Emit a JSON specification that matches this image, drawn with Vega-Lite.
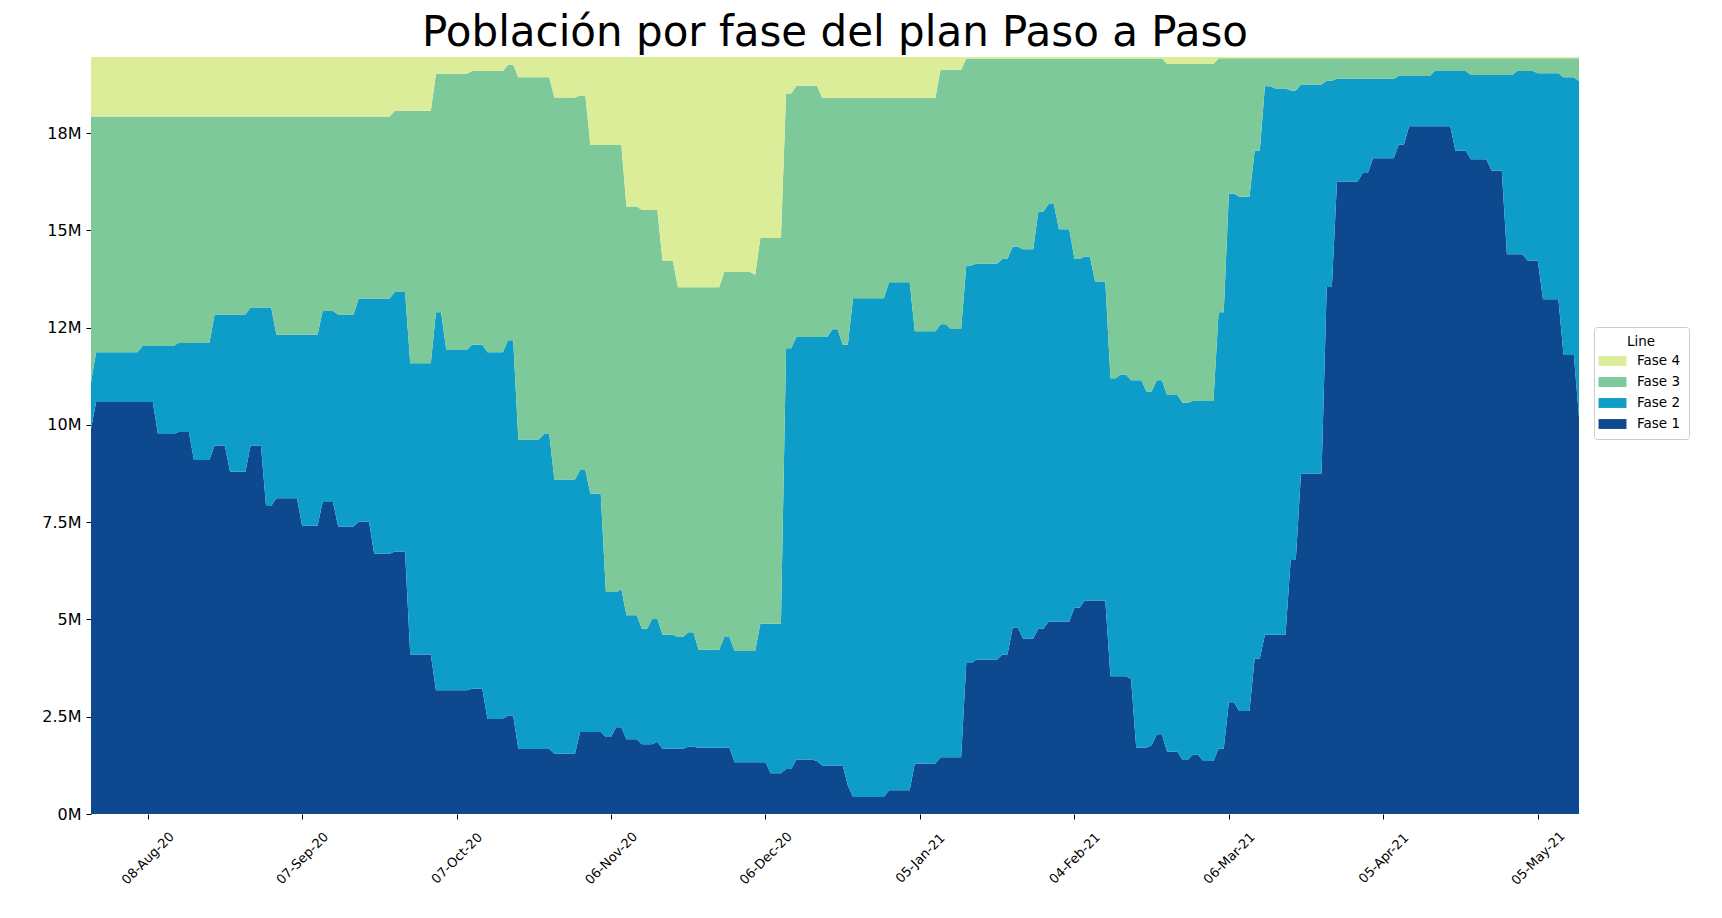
{
"$schema":"https://vega.github.io/schema/vega-lite/v6.json",
"width":1488,"height":757,
"autosize":{"type":"none"},
"padding":{"left":91,"top":57,"right":143,"bottom":104},
"background":"white",
"config":{"font":"DejaVu Sans","view":{"stroke":null}},
"title":{"text":"Población por fase del plan Paso a Paso","fontSize":42,"font":"DejaVu Sans","fontWeight":"normal","color":"black","anchor":"middle","baseline":"alphabetic","offset":-31},
"data":{"values":[
{"fecha":"2020-07-28","fase":"Fase 1","poblacion":9910000},{"fecha":"2020-07-28","fase":"Fase 2","poblacion":1190000},{"fecha":"2020-07-28","fase":"Fase 3","poblacion":6830000},{"fecha":"2020-07-28","fase":"Fase 4","poblacion":1530000},
{"fecha":"2020-07-29","fase":"Fase 1","poblacion":10590000},{"fecha":"2020-07-29","fase":"Fase 2","poblacion":1280000},{"fecha":"2020-07-29","fase":"Fase 3","poblacion":6060000},{"fecha":"2020-07-29","fase":"Fase 4","poblacion":1530000},
{"fecha":"2020-08-06","fase":"Fase 1","poblacion":10590000},{"fecha":"2020-08-06","fase":"Fase 2","poblacion":1280000},{"fecha":"2020-08-06","fase":"Fase 3","poblacion":6060000},{"fecha":"2020-08-06","fase":"Fase 4","poblacion":1530000},
{"fecha":"2020-08-07","fase":"Fase 1","poblacion":10590000},{"fecha":"2020-08-07","fase":"Fase 2","poblacion":1440000},{"fecha":"2020-08-07","fase":"Fase 3","poblacion":5900000},{"fecha":"2020-08-07","fase":"Fase 4","poblacion":1530000},
{"fecha":"2020-08-09","fase":"Fase 1","poblacion":10590000},{"fecha":"2020-08-09","fase":"Fase 2","poblacion":1440000},{"fecha":"2020-08-09","fase":"Fase 3","poblacion":5900000},{"fecha":"2020-08-09","fase":"Fase 4","poblacion":1530000},
{"fecha":"2020-08-10","fase":"Fase 1","poblacion":9770000},{"fecha":"2020-08-10","fase":"Fase 2","poblacion":2260000},{"fecha":"2020-08-10","fase":"Fase 3","poblacion":5900000},{"fecha":"2020-08-10","fase":"Fase 4","poblacion":1530000},
{"fecha":"2020-08-13","fase":"Fase 1","poblacion":9770000},{"fecha":"2020-08-13","fase":"Fase 2","poblacion":2260000},{"fecha":"2020-08-13","fase":"Fase 3","poblacion":5900000},{"fecha":"2020-08-13","fase":"Fase 4","poblacion":1530000},
{"fecha":"2020-08-14","fase":"Fase 1","poblacion":9820000},{"fecha":"2020-08-14","fase":"Fase 2","poblacion":2290000},{"fecha":"2020-08-14","fase":"Fase 3","poblacion":5820000},{"fecha":"2020-08-14","fase":"Fase 4","poblacion":1530000},
{"fecha":"2020-08-16","fase":"Fase 1","poblacion":9820000},{"fecha":"2020-08-16","fase":"Fase 2","poblacion":2290000},{"fecha":"2020-08-16","fase":"Fase 3","poblacion":5820000},{"fecha":"2020-08-16","fase":"Fase 4","poblacion":1530000},
{"fecha":"2020-08-17","fase":"Fase 1","poblacion":9100000},{"fecha":"2020-08-17","fase":"Fase 2","poblacion":3010000},{"fecha":"2020-08-17","fase":"Fase 3","poblacion":5820000},{"fecha":"2020-08-17","fase":"Fase 4","poblacion":1530000},
{"fecha":"2020-08-20","fase":"Fase 1","poblacion":9100000},{"fecha":"2020-08-20","fase":"Fase 2","poblacion":3010000},{"fecha":"2020-08-20","fase":"Fase 3","poblacion":5820000},{"fecha":"2020-08-20","fase":"Fase 4","poblacion":1530000},
{"fecha":"2020-08-21","fase":"Fase 1","poblacion":9470000},{"fecha":"2020-08-21","fase":"Fase 2","poblacion":3370000},{"fecha":"2020-08-21","fase":"Fase 3","poblacion":5090000},{"fecha":"2020-08-21","fase":"Fase 4","poblacion":1530000},
{"fecha":"2020-08-23","fase":"Fase 1","poblacion":9470000},{"fecha":"2020-08-23","fase":"Fase 2","poblacion":3370000},{"fecha":"2020-08-23","fase":"Fase 3","poblacion":5090000},{"fecha":"2020-08-23","fase":"Fase 4","poblacion":1530000},
{"fecha":"2020-08-24","fase":"Fase 1","poblacion":8800000},{"fecha":"2020-08-24","fase":"Fase 2","poblacion":4040000},{"fecha":"2020-08-24","fase":"Fase 3","poblacion":5090000},{"fecha":"2020-08-24","fase":"Fase 4","poblacion":1530000},
{"fecha":"2020-08-27","fase":"Fase 1","poblacion":8800000},{"fecha":"2020-08-27","fase":"Fase 2","poblacion":4040000},{"fecha":"2020-08-27","fase":"Fase 3","poblacion":5090000},{"fecha":"2020-08-27","fase":"Fase 4","poblacion":1530000},
{"fecha":"2020-08-28","fase":"Fase 1","poblacion":9470000},{"fecha":"2020-08-28","fase":"Fase 2","poblacion":3550000},{"fecha":"2020-08-28","fase":"Fase 3","poblacion":4910000},{"fecha":"2020-08-28","fase":"Fase 4","poblacion":1530000},
{"fecha":"2020-08-30","fase":"Fase 1","poblacion":9470000},{"fecha":"2020-08-30","fase":"Fase 2","poblacion":3550000},{"fecha":"2020-08-30","fase":"Fase 3","poblacion":4910000},{"fecha":"2020-08-30","fase":"Fase 4","poblacion":1530000},
{"fecha":"2020-08-31","fase":"Fase 1","poblacion":7920000},{"fecha":"2020-08-31","fase":"Fase 2","poblacion":5100000},{"fecha":"2020-08-31","fase":"Fase 3","poblacion":4910000},{"fecha":"2020-08-31","fase":"Fase 4","poblacion":1530000},
{"fecha":"2020-09-01","fase":"Fase 1","poblacion":7920000},{"fecha":"2020-09-01","fase":"Fase 2","poblacion":5100000},{"fecha":"2020-09-01","fase":"Fase 3","poblacion":4910000},{"fecha":"2020-09-01","fase":"Fase 4","poblacion":1530000},
{"fecha":"2020-09-02","fase":"Fase 1","poblacion":8120000},{"fecha":"2020-09-02","fase":"Fase 2","poblacion":4200000},{"fecha":"2020-09-02","fase":"Fase 3","poblacion":5610000},{"fecha":"2020-09-02","fase":"Fase 4","poblacion":1530000},
{"fecha":"2020-09-06","fase":"Fase 1","poblacion":8120000},{"fecha":"2020-09-06","fase":"Fase 2","poblacion":4200000},{"fecha":"2020-09-06","fase":"Fase 3","poblacion":5610000},{"fecha":"2020-09-06","fase":"Fase 4","poblacion":1530000},
{"fecha":"2020-09-07","fase":"Fase 1","poblacion":7410000},{"fecha":"2020-09-07","fase":"Fase 2","poblacion":4910000},{"fecha":"2020-09-07","fase":"Fase 3","poblacion":5610000},{"fecha":"2020-09-07","fase":"Fase 4","poblacion":1530000},
{"fecha":"2020-09-10","fase":"Fase 1","poblacion":7410000},{"fecha":"2020-09-10","fase":"Fase 2","poblacion":4910000},{"fecha":"2020-09-10","fase":"Fase 3","poblacion":5610000},{"fecha":"2020-09-10","fase":"Fase 4","poblacion":1530000},
{"fecha":"2020-09-11","fase":"Fase 1","poblacion":8020000},{"fecha":"2020-09-11","fase":"Fase 2","poblacion":4910000},{"fecha":"2020-09-11","fase":"Fase 3","poblacion":5000000},{"fecha":"2020-09-11","fase":"Fase 4","poblacion":1530000},
{"fecha":"2020-09-13","fase":"Fase 1","poblacion":8020000},{"fecha":"2020-09-13","fase":"Fase 2","poblacion":4910000},{"fecha":"2020-09-13","fase":"Fase 3","poblacion":5000000},{"fecha":"2020-09-13","fase":"Fase 4","poblacion":1530000},
{"fecha":"2020-09-14","fase":"Fase 1","poblacion":7390000},{"fecha":"2020-09-14","fase":"Fase 2","poblacion":5450000},{"fecha":"2020-09-14","fase":"Fase 3","poblacion":5090000},{"fecha":"2020-09-14","fase":"Fase 4","poblacion":1530000},
{"fecha":"2020-09-17","fase":"Fase 1","poblacion":7390000},{"fecha":"2020-09-17","fase":"Fase 2","poblacion":5450000},{"fecha":"2020-09-17","fase":"Fase 3","poblacion":5090000},{"fecha":"2020-09-17","fase":"Fase 4","poblacion":1530000},
{"fecha":"2020-09-18","fase":"Fase 1","poblacion":7510000},{"fecha":"2020-09-18","fase":"Fase 2","poblacion":5740000},{"fecha":"2020-09-18","fase":"Fase 3","poblacion":4680000},{"fecha":"2020-09-18","fase":"Fase 4","poblacion":1530000},
{"fecha":"2020-09-20","fase":"Fase 1","poblacion":7510000},{"fecha":"2020-09-20","fase":"Fase 2","poblacion":5740000},{"fecha":"2020-09-20","fase":"Fase 3","poblacion":4680000},{"fecha":"2020-09-20","fase":"Fase 4","poblacion":1530000},
{"fecha":"2020-09-21","fase":"Fase 1","poblacion":6690000},{"fecha":"2020-09-21","fase":"Fase 2","poblacion":6560000},{"fecha":"2020-09-21","fase":"Fase 3","poblacion":4680000},{"fecha":"2020-09-21","fase":"Fase 4","poblacion":1530000},
{"fecha":"2020-09-24","fase":"Fase 1","poblacion":6690000},{"fecha":"2020-09-24","fase":"Fase 2","poblacion":6560000},{"fecha":"2020-09-24","fase":"Fase 3","poblacion":4680000},{"fecha":"2020-09-24","fase":"Fase 4","poblacion":1530000},
{"fecha":"2020-09-25","fase":"Fase 1","poblacion":6750000},{"fecha":"2020-09-25","fase":"Fase 2","poblacion":6670000},{"fecha":"2020-09-25","fase":"Fase 3","poblacion":4660000},{"fecha":"2020-09-25","fase":"Fase 4","poblacion":1380000},
{"fecha":"2020-09-27","fase":"Fase 1","poblacion":6750000},{"fecha":"2020-09-27","fase":"Fase 2","poblacion":6670000},{"fecha":"2020-09-27","fase":"Fase 3","poblacion":4660000},{"fecha":"2020-09-27","fase":"Fase 4","poblacion":1380000},
{"fecha":"2020-09-28","fase":"Fase 1","poblacion":4100000},{"fecha":"2020-09-28","fase":"Fase 2","poblacion":7490000},{"fecha":"2020-09-28","fase":"Fase 3","poblacion":6490000},{"fecha":"2020-09-28","fase":"Fase 4","poblacion":1380000},
{"fecha":"2020-10-02","fase":"Fase 1","poblacion":4100000},{"fecha":"2020-10-02","fase":"Fase 2","poblacion":7490000},{"fecha":"2020-10-02","fase":"Fase 3","poblacion":6490000},{"fecha":"2020-10-02","fase":"Fase 4","poblacion":1380000},
{"fecha":"2020-10-03","fase":"Fase 1","poblacion":3180000},{"fecha":"2020-10-03","fase":"Fase 2","poblacion":9720000},{"fecha":"2020-10-03","fase":"Fase 3","poblacion":6130000},{"fecha":"2020-10-03","fase":"Fase 4","poblacion":430000},
{"fecha":"2020-10-04","fase":"Fase 1","poblacion":3180000},{"fecha":"2020-10-04","fase":"Fase 2","poblacion":9720000},{"fecha":"2020-10-04","fase":"Fase 3","poblacion":6130000},{"fecha":"2020-10-04","fase":"Fase 4","poblacion":430000},
{"fecha":"2020-10-05","fase":"Fase 1","poblacion":3180000},{"fecha":"2020-10-05","fase":"Fase 2","poblacion":8750000},{"fecha":"2020-10-05","fase":"Fase 3","poblacion":7100000},{"fecha":"2020-10-05","fase":"Fase 4","poblacion":430000},
{"fecha":"2020-10-09","fase":"Fase 1","poblacion":3180000},{"fecha":"2020-10-09","fase":"Fase 2","poblacion":8750000},{"fecha":"2020-10-09","fase":"Fase 3","poblacion":7100000},{"fecha":"2020-10-09","fase":"Fase 4","poblacion":430000},
{"fecha":"2020-10-10","fase":"Fase 1","poblacion":3220000},{"fecha":"2020-10-10","fase":"Fase 2","poblacion":8840000},{"fecha":"2020-10-10","fase":"Fase 3","poblacion":7040000},{"fecha":"2020-10-10","fase":"Fase 4","poblacion":360000},
{"fecha":"2020-10-12","fase":"Fase 1","poblacion":3220000},{"fecha":"2020-10-12","fase":"Fase 2","poblacion":8840000},{"fecha":"2020-10-12","fase":"Fase 3","poblacion":7040000},{"fecha":"2020-10-12","fase":"Fase 4","poblacion":360000},
{"fecha":"2020-10-13","fase":"Fase 1","poblacion":2440000},{"fecha":"2020-10-13","fase":"Fase 2","poblacion":9430000},{"fecha":"2020-10-13","fase":"Fase 3","poblacion":7230000},{"fecha":"2020-10-13","fase":"Fase 4","poblacion":360000},
{"fecha":"2020-10-16","fase":"Fase 1","poblacion":2440000},{"fecha":"2020-10-16","fase":"Fase 2","poblacion":9430000},{"fecha":"2020-10-16","fase":"Fase 3","poblacion":7230000},{"fecha":"2020-10-16","fase":"Fase 4","poblacion":360000},
{"fecha":"2020-10-17","fase":"Fase 1","poblacion":2530000},{"fecha":"2020-10-17","fase":"Fase 2","poblacion":9650000},{"fecha":"2020-10-17","fase":"Fase 3","poblacion":7080000},{"fecha":"2020-10-17","fase":"Fase 4","poblacion":200000},
{"fecha":"2020-10-18","fase":"Fase 1","poblacion":2530000},{"fecha":"2020-10-18","fase":"Fase 2","poblacion":9650000},{"fecha":"2020-10-18","fase":"Fase 3","poblacion":7080000},{"fecha":"2020-10-18","fase":"Fase 4","poblacion":200000},
{"fecha":"2020-10-19","fase":"Fase 1","poblacion":1670000},{"fecha":"2020-10-19","fase":"Fase 2","poblacion":7960000},{"fecha":"2020-10-19","fase":"Fase 3","poblacion":9310000},{"fecha":"2020-10-19","fase":"Fase 4","poblacion":520000},
{"fecha":"2020-10-23","fase":"Fase 1","poblacion":1670000},{"fecha":"2020-10-23","fase":"Fase 2","poblacion":7960000},{"fecha":"2020-10-23","fase":"Fase 3","poblacion":9310000},{"fecha":"2020-10-23","fase":"Fase 4","poblacion":520000},
{"fecha":"2020-10-24","fase":"Fase 1","poblacion":1670000},{"fecha":"2020-10-24","fase":"Fase 2","poblacion":8100000},{"fecha":"2020-10-24","fase":"Fase 3","poblacion":9170000},{"fecha":"2020-10-24","fase":"Fase 4","poblacion":520000},
{"fecha":"2020-10-25","fase":"Fase 1","poblacion":1670000},{"fecha":"2020-10-25","fase":"Fase 2","poblacion":8100000},{"fecha":"2020-10-25","fase":"Fase 3","poblacion":9170000},{"fecha":"2020-10-25","fase":"Fase 4","poblacion":520000},
{"fecha":"2020-10-26","fase":"Fase 1","poblacion":1550000},{"fecha":"2020-10-26","fase":"Fase 2","poblacion":7050000},{"fecha":"2020-10-26","fase":"Fase 3","poblacion":9820000},{"fecha":"2020-10-26","fase":"Fase 4","poblacion":1040000},
{"fecha":"2020-10-30","fase":"Fase 1","poblacion":1550000},{"fecha":"2020-10-30","fase":"Fase 2","poblacion":7050000},{"fecha":"2020-10-30","fase":"Fase 3","poblacion":9820000},{"fecha":"2020-10-30","fase":"Fase 4","poblacion":1040000},
{"fecha":"2020-10-31","fase":"Fase 1","poblacion":2110000},{"fecha":"2020-10-31","fase":"Fase 2","poblacion":6730000},{"fecha":"2020-10-31","fase":"Fase 3","poblacion":9630000},{"fecha":"2020-10-31","fase":"Fase 4","poblacion":990000},
{"fecha":"2020-11-01","fase":"Fase 1","poblacion":2110000},{"fecha":"2020-11-01","fase":"Fase 2","poblacion":6730000},{"fecha":"2020-11-01","fase":"Fase 3","poblacion":9630000},{"fecha":"2020-11-01","fase":"Fase 4","poblacion":990000},
{"fecha":"2020-11-02","fase":"Fase 1","poblacion":2110000},{"fecha":"2020-11-02","fase":"Fase 2","poblacion":6120000},{"fecha":"2020-11-02","fase":"Fase 3","poblacion":8970000},{"fecha":"2020-11-02","fase":"Fase 4","poblacion":2260000},
{"fecha":"2020-11-04","fase":"Fase 1","poblacion":2110000},{"fecha":"2020-11-04","fase":"Fase 2","poblacion":6120000},{"fecha":"2020-11-04","fase":"Fase 3","poblacion":8970000},{"fecha":"2020-11-04","fase":"Fase 4","poblacion":2260000},
{"fecha":"2020-11-05","fase":"Fase 1","poblacion":1980000},{"fecha":"2020-11-05","fase":"Fase 2","poblacion":3730000},{"fecha":"2020-11-05","fase":"Fase 3","poblacion":11490000},{"fecha":"2020-11-05","fase":"Fase 4","poblacion":2260000},
{"fecha":"2020-11-06","fase":"Fase 1","poblacion":1980000},{"fecha":"2020-11-06","fase":"Fase 2","poblacion":3730000},{"fecha":"2020-11-06","fase":"Fase 3","poblacion":11490000},{"fecha":"2020-11-06","fase":"Fase 4","poblacion":2260000},
{"fecha":"2020-11-07","fase":"Fase 1","poblacion":2230000},{"fecha":"2020-11-07","fase":"Fase 2","poblacion":3480000},{"fecha":"2020-11-07","fase":"Fase 3","poblacion":11490000},{"fecha":"2020-11-07","fase":"Fase 4","poblacion":2260000},
{"fecha":"2020-11-08","fase":"Fase 1","poblacion":2230000},{"fecha":"2020-11-08","fase":"Fase 2","poblacion":3550000},{"fecha":"2020-11-08","fase":"Fase 3","poblacion":11420000},{"fecha":"2020-11-08","fase":"Fase 4","poblacion":2260000},
{"fecha":"2020-11-09","fase":"Fase 1","poblacion":1920000},{"fecha":"2020-11-09","fase":"Fase 2","poblacion":3190000},{"fecha":"2020-11-09","fase":"Fase 3","poblacion":10510000},{"fecha":"2020-11-09","fase":"Fase 4","poblacion":3840000},
{"fecha":"2020-11-11","fase":"Fase 1","poblacion":1920000},{"fecha":"2020-11-11","fase":"Fase 2","poblacion":3190000},{"fecha":"2020-11-11","fase":"Fase 3","poblacion":10510000},{"fecha":"2020-11-11","fase":"Fase 4","poblacion":3840000},
{"fecha":"2020-11-12","fase":"Fase 1","poblacion":1790000},{"fecha":"2020-11-12","fase":"Fase 2","poblacion":2970000},{"fecha":"2020-11-12","fase":"Fase 3","poblacion":10770000},{"fecha":"2020-11-12","fase":"Fase 4","poblacion":3930000},
{"fecha":"2020-11-13","fase":"Fase 1","poblacion":1790000},{"fecha":"2020-11-13","fase":"Fase 2","poblacion":2970000},{"fecha":"2020-11-13","fase":"Fase 3","poblacion":10770000},{"fecha":"2020-11-13","fase":"Fase 4","poblacion":3930000},
{"fecha":"2020-11-14","fase":"Fase 1","poblacion":1790000},{"fecha":"2020-11-14","fase":"Fase 2","poblacion":3220000},{"fecha":"2020-11-14","fase":"Fase 3","poblacion":10520000},{"fecha":"2020-11-14","fase":"Fase 4","poblacion":3930000},
{"fecha":"2020-11-15","fase":"Fase 1","poblacion":1860000},{"fecha":"2020-11-15","fase":"Fase 2","poblacion":3150000},{"fecha":"2020-11-15","fase":"Fase 3","poblacion":10520000},{"fecha":"2020-11-15","fase":"Fase 4","poblacion":3930000},
{"fecha":"2020-11-16","fase":"Fase 1","poblacion":1680000},{"fecha":"2020-11-16","fase":"Fase 2","poblacion":2930000},{"fecha":"2020-11-16","fase":"Fase 3","poblacion":9620000},{"fecha":"2020-11-16","fase":"Fase 4","poblacion":5230000},
{"fecha":"2020-11-18","fase":"Fase 1","poblacion":1680000},{"fecha":"2020-11-18","fase":"Fase 2","poblacion":2930000},{"fecha":"2020-11-18","fase":"Fase 3","poblacion":9620000},{"fecha":"2020-11-18","fase":"Fase 4","poblacion":5230000},
{"fecha":"2020-11-19","fase":"Fase 1","poblacion":1680000},{"fecha":"2020-11-19","fase":"Fase 2","poblacion":2870000},{"fecha":"2020-11-19","fase":"Fase 3","poblacion":8990000},{"fecha":"2020-11-19","fase":"Fase 4","poblacion":5920000},
{"fecha":"2020-11-20","fase":"Fase 1","poblacion":1680000},{"fecha":"2020-11-20","fase":"Fase 2","poblacion":2870000},{"fecha":"2020-11-20","fase":"Fase 3","poblacion":8990000},{"fecha":"2020-11-20","fase":"Fase 4","poblacion":5920000},
{"fecha":"2020-11-21","fase":"Fase 1","poblacion":1730000},{"fecha":"2020-11-21","fase":"Fase 2","poblacion":2940000},{"fecha":"2020-11-21","fase":"Fase 3","poblacion":8870000},{"fecha":"2020-11-21","fase":"Fase 4","poblacion":5920000},
{"fecha":"2020-11-22","fase":"Fase 1","poblacion":1730000},{"fecha":"2020-11-22","fase":"Fase 2","poblacion":2940000},{"fecha":"2020-11-22","fase":"Fase 3","poblacion":8870000},{"fecha":"2020-11-22","fase":"Fase 4","poblacion":5920000},
{"fecha":"2020-11-23","fase":"Fase 1","poblacion":1700000},{"fecha":"2020-11-23","fase":"Fase 2","poblacion":2520000},{"fecha":"2020-11-23","fase":"Fase 3","poblacion":9320000},{"fecha":"2020-11-23","fase":"Fase 4","poblacion":5920000},
{"fecha":"2020-11-27","fase":"Fase 1","poblacion":1700000},{"fecha":"2020-11-27","fase":"Fase 2","poblacion":2520000},{"fecha":"2020-11-27","fase":"Fase 3","poblacion":9320000},{"fecha":"2020-11-27","fase":"Fase 4","poblacion":5920000},
{"fecha":"2020-11-28","fase":"Fase 1","poblacion":1700000},{"fecha":"2020-11-28","fase":"Fase 2","poblacion":2850000},{"fecha":"2020-11-28","fase":"Fase 3","poblacion":9380000},{"fecha":"2020-11-28","fase":"Fase 4","poblacion":5530000},
{"fecha":"2020-11-29","fase":"Fase 1","poblacion":1700000},{"fecha":"2020-11-29","fase":"Fase 2","poblacion":2850000},{"fecha":"2020-11-29","fase":"Fase 3","poblacion":9380000},{"fecha":"2020-11-29","fase":"Fase 4","poblacion":5530000},
{"fecha":"2020-11-30","fase":"Fase 1","poblacion":1330000},{"fecha":"2020-11-30","fase":"Fase 2","poblacion":2860000},{"fecha":"2020-11-30","fase":"Fase 3","poblacion":9740000},{"fecha":"2020-11-30","fase":"Fase 4","poblacion":5530000},
{"fecha":"2020-12-03","fase":"Fase 1","poblacion":1330000},{"fecha":"2020-12-03","fase":"Fase 2","poblacion":2860000},{"fecha":"2020-12-03","fase":"Fase 3","poblacion":9740000},{"fecha":"2020-12-03","fase":"Fase 4","poblacion":5530000},
{"fecha":"2020-12-04","fase":"Fase 1","poblacion":1330000},{"fecha":"2020-12-04","fase":"Fase 2","poblacion":2860000},{"fecha":"2020-12-04","fase":"Fase 3","poblacion":9670000},{"fecha":"2020-12-04","fase":"Fase 4","poblacion":5600000},
{"fecha":"2020-12-05","fase":"Fase 1","poblacion":1330000},{"fecha":"2020-12-05","fase":"Fase 2","poblacion":3560000},{"fecha":"2020-12-05","fase":"Fase 3","poblacion":9920000},{"fecha":"2020-12-05","fase":"Fase 4","poblacion":4650000},
{"fecha":"2020-12-06","fase":"Fase 1","poblacion":1330000},{"fecha":"2020-12-06","fase":"Fase 2","poblacion":3560000},{"fecha":"2020-12-06","fase":"Fase 3","poblacion":9920000},{"fecha":"2020-12-06","fase":"Fase 4","poblacion":4650000},
{"fecha":"2020-12-07","fase":"Fase 1","poblacion":1050000},{"fecha":"2020-12-07","fase":"Fase 2","poblacion":3840000},{"fecha":"2020-12-07","fase":"Fase 3","poblacion":9920000},{"fecha":"2020-12-07","fase":"Fase 4","poblacion":4650000},
{"fecha":"2020-12-09","fase":"Fase 1","poblacion":1050000},{"fecha":"2020-12-09","fase":"Fase 2","poblacion":3840000},{"fecha":"2020-12-09","fase":"Fase 3","poblacion":9920000},{"fecha":"2020-12-09","fase":"Fase 4","poblacion":4650000},
{"fecha":"2020-12-10","fase":"Fase 1","poblacion":1160000},{"fecha":"2020-12-10","fase":"Fase 2","poblacion":10810000},{"fecha":"2020-12-10","fase":"Fase 3","poblacion":6550000},{"fecha":"2020-12-10","fase":"Fase 4","poblacion":940000},
{"fecha":"2020-12-11","fase":"Fase 1","poblacion":1160000},{"fecha":"2020-12-11","fase":"Fase 2","poblacion":10810000},{"fecha":"2020-12-11","fase":"Fase 3","poblacion":6550000},{"fecha":"2020-12-11","fase":"Fase 4","poblacion":940000},
{"fecha":"2020-12-12","fase":"Fase 1","poblacion":1400000},{"fecha":"2020-12-12","fase":"Fase 2","poblacion":10860000},{"fecha":"2020-12-12","fase":"Fase 3","poblacion":6460000},{"fecha":"2020-12-12","fase":"Fase 4","poblacion":740000},
{"fecha":"2020-12-15","fase":"Fase 1","poblacion":1400000},{"fecha":"2020-12-15","fase":"Fase 2","poblacion":10860000},{"fecha":"2020-12-15","fase":"Fase 3","poblacion":6460000},{"fecha":"2020-12-15","fase":"Fase 4","poblacion":740000},
{"fecha":"2020-12-16","fase":"Fase 1","poblacion":1360000},{"fecha":"2020-12-16","fase":"Fase 2","poblacion":10900000},{"fecha":"2020-12-16","fase":"Fase 3","poblacion":6460000},{"fecha":"2020-12-16","fase":"Fase 4","poblacion":740000},
{"fecha":"2020-12-17","fase":"Fase 1","poblacion":1250000},{"fecha":"2020-12-17","fase":"Fase 2","poblacion":11010000},{"fecha":"2020-12-17","fase":"Fase 3","poblacion":6150000},{"fecha":"2020-12-17","fase":"Fase 4","poblacion":1050000},
{"fecha":"2020-12-18","fase":"Fase 1","poblacion":1250000},{"fecha":"2020-12-18","fase":"Fase 2","poblacion":11010000},{"fecha":"2020-12-18","fase":"Fase 3","poblacion":6150000},{"fecha":"2020-12-18","fase":"Fase 4","poblacion":1050000},
{"fecha":"2020-12-19","fase":"Fase 1","poblacion":1250000},{"fecha":"2020-12-19","fase":"Fase 2","poblacion":11210000},{"fecha":"2020-12-19","fase":"Fase 3","poblacion":5950000},{"fecha":"2020-12-19","fase":"Fase 4","poblacion":1050000},
{"fecha":"2020-12-20","fase":"Fase 1","poblacion":1250000},{"fecha":"2020-12-20","fase":"Fase 2","poblacion":11210000},{"fecha":"2020-12-20","fase":"Fase 3","poblacion":5950000},{"fecha":"2020-12-20","fase":"Fase 4","poblacion":1050000},
{"fecha":"2020-12-21","fase":"Fase 1","poblacion":1250000},{"fecha":"2020-12-21","fase":"Fase 2","poblacion":10810000},{"fecha":"2020-12-21","fase":"Fase 3","poblacion":6350000},{"fecha":"2020-12-21","fase":"Fase 4","poblacion":1050000},
{"fecha":"2020-12-22","fase":"Fase 1","poblacion":730000},{"fecha":"2020-12-22","fase":"Fase 2","poblacion":11330000},{"fecha":"2020-12-22","fase":"Fase 3","poblacion":6350000},{"fecha":"2020-12-22","fase":"Fase 4","poblacion":1050000},
{"fecha":"2020-12-23","fase":"Fase 1","poblacion":440000},{"fecha":"2020-12-23","fase":"Fase 2","poblacion":12820000},{"fecha":"2020-12-23","fase":"Fase 3","poblacion":5150000},{"fecha":"2020-12-23","fase":"Fase 4","poblacion":1050000},
{"fecha":"2020-12-29","fase":"Fase 1","poblacion":440000},{"fecha":"2020-12-29","fase":"Fase 2","poblacion":12820000},{"fecha":"2020-12-29","fase":"Fase 3","poblacion":5150000},{"fecha":"2020-12-29","fase":"Fase 4","poblacion":1050000},
{"fecha":"2020-12-30","fase":"Fase 1","poblacion":610000},{"fecha":"2020-12-30","fase":"Fase 2","poblacion":13060000},{"fecha":"2020-12-30","fase":"Fase 3","poblacion":4740000},{"fecha":"2020-12-30","fase":"Fase 4","poblacion":1050000},
{"fecha":"2021-01-03","fase":"Fase 1","poblacion":610000},{"fecha":"2021-01-03","fase":"Fase 2","poblacion":13060000},{"fecha":"2021-01-03","fase":"Fase 3","poblacion":4740000},{"fecha":"2021-01-03","fase":"Fase 4","poblacion":1050000},
{"fecha":"2021-01-04","fase":"Fase 1","poblacion":1300000},{"fecha":"2021-01-04","fase":"Fase 2","poblacion":11110000},{"fecha":"2021-01-04","fase":"Fase 3","poblacion":6000000},{"fecha":"2021-01-04","fase":"Fase 4","poblacion":1050000},
{"fecha":"2021-01-08","fase":"Fase 1","poblacion":1300000},{"fecha":"2021-01-08","fase":"Fase 2","poblacion":11110000},{"fecha":"2021-01-08","fase":"Fase 3","poblacion":6000000},{"fecha":"2021-01-08","fase":"Fase 4","poblacion":1050000},
{"fecha":"2021-01-09","fase":"Fase 1","poblacion":1460000},{"fecha":"2021-01-09","fase":"Fase 2","poblacion":11130000},{"fecha":"2021-01-09","fase":"Fase 3","poblacion":6540000},{"fecha":"2021-01-09","fase":"Fase 4","poblacion":330000},
{"fecha":"2021-01-10","fase":"Fase 1","poblacion":1460000},{"fecha":"2021-01-10","fase":"Fase 2","poblacion":11130000},{"fecha":"2021-01-10","fase":"Fase 3","poblacion":6540000},{"fecha":"2021-01-10","fase":"Fase 4","poblacion":330000},
{"fecha":"2021-01-11","fase":"Fase 1","poblacion":1460000},{"fecha":"2021-01-11","fase":"Fase 2","poblacion":11010000},{"fecha":"2021-01-11","fase":"Fase 3","poblacion":6660000},{"fecha":"2021-01-11","fase":"Fase 4","poblacion":330000},
{"fecha":"2021-01-13","fase":"Fase 1","poblacion":1460000},{"fecha":"2021-01-13","fase":"Fase 2","poblacion":11010000},{"fecha":"2021-01-13","fase":"Fase 3","poblacion":6660000},{"fecha":"2021-01-13","fase":"Fase 4","poblacion":330000},
{"fecha":"2021-01-14","fase":"Fase 1","poblacion":3880000},{"fecha":"2021-01-14","fase":"Fase 2","poblacion":10220000},{"fecha":"2021-01-14","fase":"Fase 3","poblacion":5320000},{"fecha":"2021-01-14","fase":"Fase 4","poblacion":40000},
{"fecha":"2021-01-15","fase":"Fase 1","poblacion":3880000},{"fecha":"2021-01-15","fase":"Fase 2","poblacion":10220000},{"fecha":"2021-01-15","fase":"Fase 3","poblacion":5320000},{"fecha":"2021-01-15","fase":"Fase 4","poblacion":40000},
{"fecha":"2021-01-16","fase":"Fase 1","poblacion":3970000},{"fecha":"2021-01-16","fase":"Fase 2","poblacion":10180000},{"fecha":"2021-01-16","fase":"Fase 3","poblacion":5270000},{"fecha":"2021-01-16","fase":"Fase 4","poblacion":40000},
{"fecha":"2021-01-20","fase":"Fase 1","poblacion":3970000},{"fecha":"2021-01-20","fase":"Fase 2","poblacion":10180000},{"fecha":"2021-01-20","fase":"Fase 3","poblacion":5270000},{"fecha":"2021-01-20","fase":"Fase 4","poblacion":40000},
{"fecha":"2021-01-21","fase":"Fase 1","poblacion":4100000},{"fecha":"2021-01-21","fase":"Fase 2","poblacion":10170000},{"fecha":"2021-01-21","fase":"Fase 3","poblacion":5150000},{"fecha":"2021-01-21","fase":"Fase 4","poblacion":40000},
{"fecha":"2021-01-22","fase":"Fase 1","poblacion":4100000},{"fecha":"2021-01-22","fase":"Fase 2","poblacion":10170000},{"fecha":"2021-01-22","fase":"Fase 3","poblacion":5150000},{"fecha":"2021-01-22","fase":"Fase 4","poblacion":40000},
{"fecha":"2021-01-23","fase":"Fase 1","poblacion":4790000},{"fecha":"2021-01-23","fase":"Fase 2","poblacion":9790000},{"fecha":"2021-01-23","fase":"Fase 3","poblacion":4840000},{"fecha":"2021-01-23","fase":"Fase 4","poblacion":40000},
{"fecha":"2021-01-24","fase":"Fase 1","poblacion":4790000},{"fecha":"2021-01-24","fase":"Fase 2","poblacion":9790000},{"fecha":"2021-01-24","fase":"Fase 3","poblacion":4840000},{"fecha":"2021-01-24","fase":"Fase 4","poblacion":40000},
{"fecha":"2021-01-25","fase":"Fase 1","poblacion":4510000},{"fecha":"2021-01-25","fase":"Fase 2","poblacion":10010000},{"fecha":"2021-01-25","fase":"Fase 3","poblacion":4900000},{"fecha":"2021-01-25","fase":"Fase 4","poblacion":40000},
{"fecha":"2021-01-27","fase":"Fase 1","poblacion":4510000},{"fecha":"2021-01-27","fase":"Fase 2","poblacion":10010000},{"fecha":"2021-01-27","fase":"Fase 3","poblacion":4900000},{"fecha":"2021-01-27","fase":"Fase 4","poblacion":40000},
{"fecha":"2021-01-28","fase":"Fase 1","poblacion":4760000},{"fecha":"2021-01-28","fase":"Fase 2","poblacion":10730000},{"fecha":"2021-01-28","fase":"Fase 3","poblacion":3930000},{"fecha":"2021-01-28","fase":"Fase 4","poblacion":40000},
{"fecha":"2021-01-29","fase":"Fase 1","poblacion":4760000},{"fecha":"2021-01-29","fase":"Fase 2","poblacion":10730000},{"fecha":"2021-01-29","fase":"Fase 3","poblacion":3930000},{"fecha":"2021-01-29","fase":"Fase 4","poblacion":40000},
{"fecha":"2021-01-30","fase":"Fase 1","poblacion":4950000},{"fecha":"2021-01-30","fase":"Fase 2","poblacion":10730000},{"fecha":"2021-01-30","fase":"Fase 3","poblacion":3740000},{"fecha":"2021-01-30","fase":"Fase 4","poblacion":40000},
{"fecha":"2021-01-31","fase":"Fase 1","poblacion":4950000},{"fecha":"2021-01-31","fase":"Fase 2","poblacion":10730000},{"fecha":"2021-01-31","fase":"Fase 3","poblacion":3740000},{"fecha":"2021-01-31","fase":"Fase 4","poblacion":40000},
{"fecha":"2021-02-01","fase":"Fase 1","poblacion":4950000},{"fecha":"2021-02-01","fase":"Fase 2","poblacion":10080000},{"fecha":"2021-02-01","fase":"Fase 3","poblacion":4390000},{"fecha":"2021-02-01","fase":"Fase 4","poblacion":40000},
{"fecha":"2021-02-03","fase":"Fase 1","poblacion":4950000},{"fecha":"2021-02-03","fase":"Fase 2","poblacion":10080000},{"fecha":"2021-02-03","fase":"Fase 3","poblacion":4390000},{"fecha":"2021-02-03","fase":"Fase 4","poblacion":40000},
{"fecha":"2021-02-04","fase":"Fase 1","poblacion":5300000},{"fecha":"2021-02-04","fase":"Fase 2","poblacion":8970000},{"fecha":"2021-02-04","fase":"Fase 3","poblacion":5150000},{"fecha":"2021-02-04","fase":"Fase 4","poblacion":40000},
{"fecha":"2021-02-05","fase":"Fase 1","poblacion":5300000},{"fecha":"2021-02-05","fase":"Fase 2","poblacion":8970000},{"fecha":"2021-02-05","fase":"Fase 3","poblacion":5150000},{"fecha":"2021-02-05","fase":"Fase 4","poblacion":40000},
{"fecha":"2021-02-06","fase":"Fase 1","poblacion":5490000},{"fecha":"2021-02-06","fase":"Fase 2","poblacion":8840000},{"fecha":"2021-02-06","fase":"Fase 3","poblacion":5090000},{"fecha":"2021-02-06","fase":"Fase 4","poblacion":40000},
{"fecha":"2021-02-07","fase":"Fase 1","poblacion":5490000},{"fecha":"2021-02-07","fase":"Fase 2","poblacion":8840000},{"fecha":"2021-02-07","fase":"Fase 3","poblacion":5090000},{"fecha":"2021-02-07","fase":"Fase 4","poblacion":40000},
{"fecha":"2021-02-08","fase":"Fase 1","poblacion":5490000},{"fecha":"2021-02-08","fase":"Fase 2","poblacion":8200000},{"fecha":"2021-02-08","fase":"Fase 3","poblacion":5730000},{"fecha":"2021-02-08","fase":"Fase 4","poblacion":40000},
{"fecha":"2021-02-10","fase":"Fase 1","poblacion":5490000},{"fecha":"2021-02-10","fase":"Fase 2","poblacion":8200000},{"fecha":"2021-02-10","fase":"Fase 3","poblacion":5730000},{"fecha":"2021-02-10","fase":"Fase 4","poblacion":40000},
{"fecha":"2021-02-11","fase":"Fase 1","poblacion":3540000},{"fecha":"2021-02-11","fase":"Fase 2","poblacion":7660000},{"fecha":"2021-02-11","fase":"Fase 3","poblacion":8220000},{"fecha":"2021-02-11","fase":"Fase 4","poblacion":40000},
{"fecha":"2021-02-12","fase":"Fase 1","poblacion":3540000},{"fecha":"2021-02-12","fase":"Fase 2","poblacion":7660000},{"fecha":"2021-02-12","fase":"Fase 3","poblacion":8220000},{"fecha":"2021-02-12","fase":"Fase 4","poblacion":40000},
{"fecha":"2021-02-13","fase":"Fase 1","poblacion":3540000},{"fecha":"2021-02-13","fase":"Fase 2","poblacion":7760000},{"fecha":"2021-02-13","fase":"Fase 3","poblacion":8120000},{"fecha":"2021-02-13","fase":"Fase 4","poblacion":40000},
{"fecha":"2021-02-14","fase":"Fase 1","poblacion":3540000},{"fecha":"2021-02-14","fase":"Fase 2","poblacion":7760000},{"fecha":"2021-02-14","fase":"Fase 3","poblacion":8120000},{"fecha":"2021-02-14","fase":"Fase 4","poblacion":40000},
{"fecha":"2021-02-15","fase":"Fase 1","poblacion":3470000},{"fecha":"2021-02-15","fase":"Fase 2","poblacion":7680000},{"fecha":"2021-02-15","fase":"Fase 3","poblacion":8270000},{"fecha":"2021-02-15","fase":"Fase 4","poblacion":40000},
{"fecha":"2021-02-16","fase":"Fase 1","poblacion":1700000},{"fecha":"2021-02-16","fase":"Fase 2","poblacion":9450000},{"fecha":"2021-02-16","fase":"Fase 3","poblacion":8270000},{"fecha":"2021-02-16","fase":"Fase 4","poblacion":40000},
{"fecha":"2021-02-17","fase":"Fase 1","poblacion":1700000},{"fecha":"2021-02-17","fase":"Fase 2","poblacion":9450000},{"fecha":"2021-02-17","fase":"Fase 3","poblacion":8270000},{"fecha":"2021-02-17","fase":"Fase 4","poblacion":40000},
{"fecha":"2021-02-18","fase":"Fase 1","poblacion":1700000},{"fecha":"2021-02-18","fase":"Fase 2","poblacion":9160000},{"fecha":"2021-02-18","fase":"Fase 3","poblacion":8560000},{"fecha":"2021-02-18","fase":"Fase 4","poblacion":40000},
{"fecha":"2021-02-19","fase":"Fase 1","poblacion":1770000},{"fecha":"2021-02-19","fase":"Fase 2","poblacion":9090000},{"fecha":"2021-02-19","fase":"Fase 3","poblacion":8560000},{"fecha":"2021-02-19","fase":"Fase 4","poblacion":40000},
{"fecha":"2021-02-20","fase":"Fase 1","poblacion":2050000},{"fecha":"2021-02-20","fase":"Fase 2","poblacion":9100000},{"fecha":"2021-02-20","fase":"Fase 3","poblacion":8270000},{"fecha":"2021-02-20","fase":"Fase 4","poblacion":40000},
{"fecha":"2021-02-21","fase":"Fase 1","poblacion":2050000},{"fecha":"2021-02-21","fase":"Fase 2","poblacion":9100000},{"fecha":"2021-02-21","fase":"Fase 3","poblacion":8270000},{"fecha":"2021-02-21","fase":"Fase 4","poblacion":40000},
{"fecha":"2021-02-22","fase":"Fase 1","poblacion":1600000},{"fecha":"2021-02-22","fase":"Fase 2","poblacion":9170000},{"fecha":"2021-02-22","fase":"Fase 3","poblacion":8510000},{"fecha":"2021-02-22","fase":"Fase 4","poblacion":180000},
{"fecha":"2021-02-24","fase":"Fase 1","poblacion":1600000},{"fecha":"2021-02-24","fase":"Fase 2","poblacion":9170000},{"fecha":"2021-02-24","fase":"Fase 3","poblacion":8510000},{"fecha":"2021-02-24","fase":"Fase 4","poblacion":180000},
{"fecha":"2021-02-25","fase":"Fase 1","poblacion":1390000},{"fecha":"2021-02-25","fase":"Fase 2","poblacion":9180000},{"fecha":"2021-02-25","fase":"Fase 3","poblacion":8710000},{"fecha":"2021-02-25","fase":"Fase 4","poblacion":180000},
{"fecha":"2021-02-26","fase":"Fase 1","poblacion":1390000},{"fecha":"2021-02-26","fase":"Fase 2","poblacion":9180000},{"fecha":"2021-02-26","fase":"Fase 3","poblacion":8710000},{"fecha":"2021-02-26","fase":"Fase 4","poblacion":180000},
{"fecha":"2021-02-27","fase":"Fase 1","poblacion":1520000},{"fecha":"2021-02-27","fase":"Fase 2","poblacion":9100000},{"fecha":"2021-02-27","fase":"Fase 3","poblacion":8660000},{"fecha":"2021-02-27","fase":"Fase 4","poblacion":180000},
{"fecha":"2021-02-28","fase":"Fase 1","poblacion":1520000},{"fecha":"2021-02-28","fase":"Fase 2","poblacion":9100000},{"fecha":"2021-02-28","fase":"Fase 3","poblacion":8660000},{"fecha":"2021-02-28","fase":"Fase 4","poblacion":180000},
{"fecha":"2021-03-01","fase":"Fase 1","poblacion":1360000},{"fecha":"2021-03-01","fase":"Fase 2","poblacion":9260000},{"fecha":"2021-03-01","fase":"Fase 3","poblacion":8660000},{"fecha":"2021-03-01","fase":"Fase 4","poblacion":180000},
{"fecha":"2021-03-03","fase":"Fase 1","poblacion":1360000},{"fecha":"2021-03-03","fase":"Fase 2","poblacion":9260000},{"fecha":"2021-03-03","fase":"Fase 3","poblacion":8660000},{"fecha":"2021-03-03","fase":"Fase 4","poblacion":180000},
{"fecha":"2021-03-04","fase":"Fase 1","poblacion":1680000},{"fecha":"2021-03-04","fase":"Fase 2","poblacion":11220000},{"fecha":"2021-03-04","fase":"Fase 3","poblacion":6530000},{"fecha":"2021-03-04","fase":"Fase 4","poblacion":30000},
{"fecha":"2021-03-05","fase":"Fase 1","poblacion":1680000},{"fecha":"2021-03-05","fase":"Fase 2","poblacion":11220000},{"fecha":"2021-03-05","fase":"Fase 3","poblacion":6530000},{"fecha":"2021-03-05","fase":"Fase 4","poblacion":30000},
{"fecha":"2021-03-06","fase":"Fase 1","poblacion":2870000},{"fecha":"2021-03-06","fase":"Fase 2","poblacion":13080000},{"fecha":"2021-03-06","fase":"Fase 3","poblacion":3480000},{"fecha":"2021-03-06","fase":"Fase 4","poblacion":30000},
{"fecha":"2021-03-07","fase":"Fase 1","poblacion":2870000},{"fecha":"2021-03-07","fase":"Fase 2","poblacion":13080000},{"fecha":"2021-03-07","fase":"Fase 3","poblacion":3480000},{"fecha":"2021-03-07","fase":"Fase 4","poblacion":30000},
{"fecha":"2021-03-08","fase":"Fase 1","poblacion":2650000},{"fecha":"2021-03-08","fase":"Fase 2","poblacion":13220000},{"fecha":"2021-03-08","fase":"Fase 3","poblacion":3560000},{"fecha":"2021-03-08","fase":"Fase 4","poblacion":30000},
{"fecha":"2021-03-10","fase":"Fase 1","poblacion":2650000},{"fecha":"2021-03-10","fase":"Fase 2","poblacion":13220000},{"fecha":"2021-03-10","fase":"Fase 3","poblacion":3560000},{"fecha":"2021-03-10","fase":"Fase 4","poblacion":30000},
{"fecha":"2021-03-11","fase":"Fase 1","poblacion":4000000},{"fecha":"2021-03-11","fase":"Fase 2","poblacion":13050000},{"fecha":"2021-03-11","fase":"Fase 3","poblacion":2380000},{"fecha":"2021-03-11","fase":"Fase 4","poblacion":30000},
{"fecha":"2021-03-12","fase":"Fase 1","poblacion":4000000},{"fecha":"2021-03-12","fase":"Fase 2","poblacion":13050000},{"fecha":"2021-03-12","fase":"Fase 3","poblacion":2380000},{"fecha":"2021-03-12","fase":"Fase 4","poblacion":30000},
{"fecha":"2021-03-13","fase":"Fase 1","poblacion":4610000},{"fecha":"2021-03-13","fase":"Fase 2","poblacion":14100000},{"fecha":"2021-03-13","fase":"Fase 3","poblacion":720000},{"fecha":"2021-03-13","fase":"Fase 4","poblacion":30000},
{"fecha":"2021-03-14","fase":"Fase 1","poblacion":4610000},{"fecha":"2021-03-14","fase":"Fase 2","poblacion":14100000},{"fecha":"2021-03-14","fase":"Fase 3","poblacion":720000},{"fecha":"2021-03-14","fase":"Fase 4","poblacion":30000},
{"fecha":"2021-03-15","fase":"Fase 1","poblacion":4610000},{"fecha":"2021-03-15","fase":"Fase 2","poblacion":14040000},{"fecha":"2021-03-15","fase":"Fase 3","poblacion":780000},{"fecha":"2021-03-15","fase":"Fase 4","poblacion":30000},
{"fecha":"2021-03-17","fase":"Fase 1","poblacion":4610000},{"fecha":"2021-03-17","fase":"Fase 2","poblacion":14040000},{"fecha":"2021-03-17","fase":"Fase 3","poblacion":780000},{"fecha":"2021-03-17","fase":"Fase 4","poblacion":30000},
{"fecha":"2021-03-18","fase":"Fase 1","poblacion":6530000},{"fecha":"2021-03-18","fase":"Fase 2","poblacion":12070000},{"fecha":"2021-03-18","fase":"Fase 3","poblacion":830000},{"fecha":"2021-03-18","fase":"Fase 4","poblacion":30000},
{"fecha":"2021-03-19","fase":"Fase 1","poblacion":6530000},{"fecha":"2021-03-19","fase":"Fase 2","poblacion":12070000},{"fecha":"2021-03-19","fase":"Fase 3","poblacion":830000},{"fecha":"2021-03-19","fase":"Fase 4","poblacion":30000},
{"fecha":"2021-03-20","fase":"Fase 1","poblacion":8750000},{"fecha":"2021-03-20","fase":"Fase 2","poblacion":10000000},{"fecha":"2021-03-20","fase":"Fase 3","poblacion":680000},{"fecha":"2021-03-20","fase":"Fase 4","poblacion":30000},
{"fecha":"2021-03-24","fase":"Fase 1","poblacion":8750000},{"fecha":"2021-03-24","fase":"Fase 2","poblacion":10000000},{"fecha":"2021-03-24","fase":"Fase 3","poblacion":680000},{"fecha":"2021-03-24","fase":"Fase 4","poblacion":30000},
{"fecha":"2021-03-25","fase":"Fase 1","poblacion":13550000},{"fecha":"2021-03-25","fase":"Fase 2","poblacion":5300000},{"fecha":"2021-03-25","fase":"Fase 3","poblacion":580000},{"fecha":"2021-03-25","fase":"Fase 4","poblacion":30000},
{"fecha":"2021-03-26","fase":"Fase 1","poblacion":13550000},{"fecha":"2021-03-26","fase":"Fase 2","poblacion":5300000},{"fecha":"2021-03-26","fase":"Fase 3","poblacion":580000},{"fecha":"2021-03-26","fase":"Fase 4","poblacion":30000},
{"fecha":"2021-03-27","fase":"Fase 1","poblacion":16260000},{"fecha":"2021-03-27","fase":"Fase 2","poblacion":2640000},{"fecha":"2021-03-27","fase":"Fase 3","poblacion":530000},{"fecha":"2021-03-27","fase":"Fase 4","poblacion":30000},
{"fecha":"2021-03-31","fase":"Fase 1","poblacion":16260000},{"fecha":"2021-03-31","fase":"Fase 2","poblacion":2640000},{"fecha":"2021-03-31","fase":"Fase 3","poblacion":530000},{"fecha":"2021-03-31","fase":"Fase 4","poblacion":30000},
{"fecha":"2021-04-01","fase":"Fase 1","poblacion":16480000},{"fecha":"2021-04-01","fase":"Fase 2","poblacion":2420000},{"fecha":"2021-04-01","fase":"Fase 3","poblacion":530000},{"fecha":"2021-04-01","fase":"Fase 4","poblacion":30000},
{"fecha":"2021-04-02","fase":"Fase 1","poblacion":16480000},{"fecha":"2021-04-02","fase":"Fase 2","poblacion":2420000},{"fecha":"2021-04-02","fase":"Fase 3","poblacion":530000},{"fecha":"2021-04-02","fase":"Fase 4","poblacion":30000},
{"fecha":"2021-04-03","fase":"Fase 1","poblacion":16860000},{"fecha":"2021-04-03","fase":"Fase 2","poblacion":2040000},{"fecha":"2021-04-03","fase":"Fase 3","poblacion":530000},{"fecha":"2021-04-03","fase":"Fase 4","poblacion":30000},
{"fecha":"2021-04-07","fase":"Fase 1","poblacion":16860000},{"fecha":"2021-04-07","fase":"Fase 2","poblacion":2040000},{"fecha":"2021-04-07","fase":"Fase 3","poblacion":530000},{"fecha":"2021-04-07","fase":"Fase 4","poblacion":30000},
{"fecha":"2021-04-08","fase":"Fase 1","poblacion":17210000},{"fecha":"2021-04-08","fase":"Fase 2","poblacion":1760000},{"fecha":"2021-04-08","fase":"Fase 3","poblacion":460000},{"fecha":"2021-04-08","fase":"Fase 4","poblacion":30000},
{"fecha":"2021-04-09","fase":"Fase 1","poblacion":17210000},{"fecha":"2021-04-09","fase":"Fase 2","poblacion":1760000},{"fecha":"2021-04-09","fase":"Fase 3","poblacion":460000},{"fecha":"2021-04-09","fase":"Fase 4","poblacion":30000},
{"fecha":"2021-04-10","fase":"Fase 1","poblacion":17680000},{"fecha":"2021-04-10","fase":"Fase 2","poblacion":1290000},{"fecha":"2021-04-10","fase":"Fase 3","poblacion":460000},{"fecha":"2021-04-10","fase":"Fase 4","poblacion":30000},
{"fecha":"2021-04-14","fase":"Fase 1","poblacion":17680000},{"fecha":"2021-04-14","fase":"Fase 2","poblacion":1290000},{"fecha":"2021-04-14","fase":"Fase 3","poblacion":460000},{"fecha":"2021-04-14","fase":"Fase 4","poblacion":30000},
{"fecha":"2021-04-15","fase":"Fase 1","poblacion":17680000},{"fecha":"2021-04-15","fase":"Fase 2","poblacion":1420000},{"fecha":"2021-04-15","fase":"Fase 3","poblacion":330000},{"fecha":"2021-04-15","fase":"Fase 4","poblacion":30000},
{"fecha":"2021-04-18","fase":"Fase 1","poblacion":17680000},{"fecha":"2021-04-18","fase":"Fase 2","poblacion":1420000},{"fecha":"2021-04-18","fase":"Fase 3","poblacion":330000},{"fecha":"2021-04-18","fase":"Fase 4","poblacion":30000},
{"fecha":"2021-04-19","fase":"Fase 1","poblacion":17050000},{"fecha":"2021-04-19","fase":"Fase 2","poblacion":2050000},{"fecha":"2021-04-19","fase":"Fase 3","poblacion":330000},{"fecha":"2021-04-19","fase":"Fase 4","poblacion":30000},
{"fecha":"2021-04-21","fase":"Fase 1","poblacion":17050000},{"fecha":"2021-04-21","fase":"Fase 2","poblacion":2050000},{"fecha":"2021-04-21","fase":"Fase 3","poblacion":330000},{"fecha":"2021-04-21","fase":"Fase 4","poblacion":30000},
{"fecha":"2021-04-22","fase":"Fase 1","poblacion":16830000},{"fecha":"2021-04-22","fase":"Fase 2","poblacion":2170000},{"fecha":"2021-04-22","fase":"Fase 3","poblacion":430000},{"fecha":"2021-04-22","fase":"Fase 4","poblacion":30000},
{"fecha":"2021-04-25","fase":"Fase 1","poblacion":16830000},{"fecha":"2021-04-25","fase":"Fase 2","poblacion":2170000},{"fecha":"2021-04-25","fase":"Fase 3","poblacion":430000},{"fecha":"2021-04-25","fase":"Fase 4","poblacion":30000},
{"fecha":"2021-04-26","fase":"Fase 1","poblacion":16540000},{"fecha":"2021-04-26","fase":"Fase 2","poblacion":2460000},{"fecha":"2021-04-26","fase":"Fase 3","poblacion":430000},{"fecha":"2021-04-26","fase":"Fase 4","poblacion":30000},
{"fecha":"2021-04-28","fase":"Fase 1","poblacion":16540000},{"fecha":"2021-04-28","fase":"Fase 2","poblacion":2460000},{"fecha":"2021-04-28","fase":"Fase 3","poblacion":430000},{"fecha":"2021-04-28","fase":"Fase 4","poblacion":30000},
{"fecha":"2021-04-29","fase":"Fase 1","poblacion":14390000},{"fecha":"2021-04-29","fase":"Fase 2","poblacion":4610000},{"fecha":"2021-04-29","fase":"Fase 3","poblacion":430000},{"fecha":"2021-04-29","fase":"Fase 4","poblacion":30000},
{"fecha":"2021-04-30","fase":"Fase 1","poblacion":14390000},{"fecha":"2021-04-30","fase":"Fase 2","poblacion":4610000},{"fecha":"2021-04-30","fase":"Fase 3","poblacion":430000},{"fecha":"2021-04-30","fase":"Fase 4","poblacion":30000},
{"fecha":"2021-05-01","fase":"Fase 1","poblacion":14390000},{"fecha":"2021-05-01","fase":"Fase 2","poblacion":4710000},{"fecha":"2021-05-01","fase":"Fase 3","poblacion":330000},{"fecha":"2021-05-01","fase":"Fase 4","poblacion":30000},
{"fecha":"2021-05-02","fase":"Fase 1","poblacion":14390000},{"fecha":"2021-05-02","fase":"Fase 2","poblacion":4710000},{"fecha":"2021-05-02","fase":"Fase 3","poblacion":330000},{"fecha":"2021-05-02","fase":"Fase 4","poblacion":30000},
{"fecha":"2021-05-03","fase":"Fase 1","poblacion":14230000},{"fecha":"2021-05-03","fase":"Fase 2","poblacion":4870000},{"fecha":"2021-05-03","fase":"Fase 3","poblacion":330000},{"fecha":"2021-05-03","fase":"Fase 4","poblacion":30000},
{"fecha":"2021-05-04","fase":"Fase 1","poblacion":14230000},{"fecha":"2021-05-04","fase":"Fase 2","poblacion":4870000},{"fecha":"2021-05-04","fase":"Fase 3","poblacion":330000},{"fecha":"2021-05-04","fase":"Fase 4","poblacion":30000},
{"fecha":"2021-05-05","fase":"Fase 1","poblacion":14230000},{"fecha":"2021-05-05","fase":"Fase 2","poblacion":4810000},{"fecha":"2021-05-05","fase":"Fase 3","poblacion":390000},{"fecha":"2021-05-05","fase":"Fase 4","poblacion":30000},
{"fecha":"2021-05-06","fase":"Fase 1","poblacion":13230000},{"fecha":"2021-05-06","fase":"Fase 2","poblacion":5810000},{"fecha":"2021-05-06","fase":"Fase 3","poblacion":390000},{"fecha":"2021-05-06","fase":"Fase 4","poblacion":30000},
{"fecha":"2021-05-09","fase":"Fase 1","poblacion":13230000},{"fecha":"2021-05-09","fase":"Fase 2","poblacion":5810000},{"fecha":"2021-05-09","fase":"Fase 3","poblacion":390000},{"fecha":"2021-05-09","fase":"Fase 4","poblacion":30000},
{"fecha":"2021-05-10","fase":"Fase 1","poblacion":11800000},{"fecha":"2021-05-10","fase":"Fase 2","poblacion":7140000},{"fecha":"2021-05-10","fase":"Fase 3","poblacion":490000},{"fecha":"2021-05-10","fase":"Fase 4","poblacion":30000},
{"fecha":"2021-05-12","fase":"Fase 1","poblacion":11800000},{"fecha":"2021-05-12","fase":"Fase 2","poblacion":7140000},{"fecha":"2021-05-12","fase":"Fase 3","poblacion":490000},{"fecha":"2021-05-12","fase":"Fase 4","poblacion":30000},
{"fecha":"2021-05-13","fase":"Fase 1","poblacion":10200000},{"fecha":"2021-05-13","fase":"Fase 2","poblacion":8640000},{"fecha":"2021-05-13","fase":"Fase 3","poblacion":590000},{"fecha":"2021-05-13","fase":"Fase 4","poblacion":30000}
]},
"mark":{"type":"area","interpolate":"linear"},
"encoding":{
"x":{"field":"fecha","type":"temporal",
"scale":{"type":"utc","domain":[{"year":2020,"month":7,"date":28,"utc":true},{"year":2021,"month":5,"date":13,"utc":true}],"nice":false},
"axis":{"title":null,"labelExpr":"utcFormat(datum.value, '%d-%b-%y')",
"values":[{"year":2020,"month":8,"date":8,"utc":true},{"year":2020,"month":9,"date":7,"utc":true},{"year":2020,"month":10,"date":7,"utc":true},{"year":2020,"month":11,"date":6,"utc":true},{"year":2020,"month":12,"date":6,"utc":true},{"year":2021,"month":1,"date":5,"utc":true},{"year":2021,"month":2,"date":4,"utc":true},{"year":2021,"month":3,"date":6,"utc":true},{"year":2021,"month":4,"date":5,"utc":true},{"year":2021,"month":5,"date":5,"utc":true}],
"labelAngle":-45,"labelAlign":"center","labelBaseline":"middle","labelPadding":39,"labelFontSize":13,"labelFont":"DejaVu Sans","labelColor":"black","labelOverlap":false,"labelFlush":false,
"tickSize":5,"tickColor":"black","tickWidth":1,"domain":false,"grid":false}},
"y":{"field":"poblacion","type":"quantitative","stack":"zero",
"scale":{"domain":[0,19460000],"nice":false,"zero":true},
"axis":{"title":null,"values":[0,2500000,5000000,7500000,10000000,12500000,15000000,17500000],
"labelExpr":"datum.value == 0 ? '0M' : datum.value == 2500000 ? '2.5M' : datum.value == 5000000 ? '5M' : datum.value == 7500000 ? '7.5M' : datum.value == 10000000 ? '10M' : datum.value == 12500000 ? '12M' : datum.value == 15000000 ? '15M' : '18M'",
"labelFontSize":16,"labelFont":"DejaVu Sans","labelColor":"black","labelPadding":5,"tickSize":5,"tickColor":"black","tickWidth":1,"domain":false,"grid":false}},
"color":{"field":"fase","type":"nominal",
"scale":{"domain":["Fase 4","Fase 3","Fase 2","Fase 1"],"range":["#dbed99","#7ec999","#0e9cc9","#0e488f"]},
"legend":{"title":"Line","orient":"none","legendX":1503,"legendY":270,
"symbolType":"M-1.33,-0.47L1.33,-0.47L1.33,0.47L-1.33,0.47Z","symbolSize":441,"symbolStrokeWidth":0,"symbolOpacity":1,
"labelFontSize":13.5,"titleFontSize":13.5,"labelFont":"DejaVu Sans","titleFont":"DejaVu Sans","titleFontWeight":"normal","labelColor":"black","titleColor":"black",
"padding":8,"strokeColor":"#cccccc","fillColor":"white","cornerRadius":3,"labelOffset":14,"rowPadding":4,"titlePadding":2,"titleAnchor":"middle"}},
"order":{"field":"fase","sort":"ascending"}
}
}
